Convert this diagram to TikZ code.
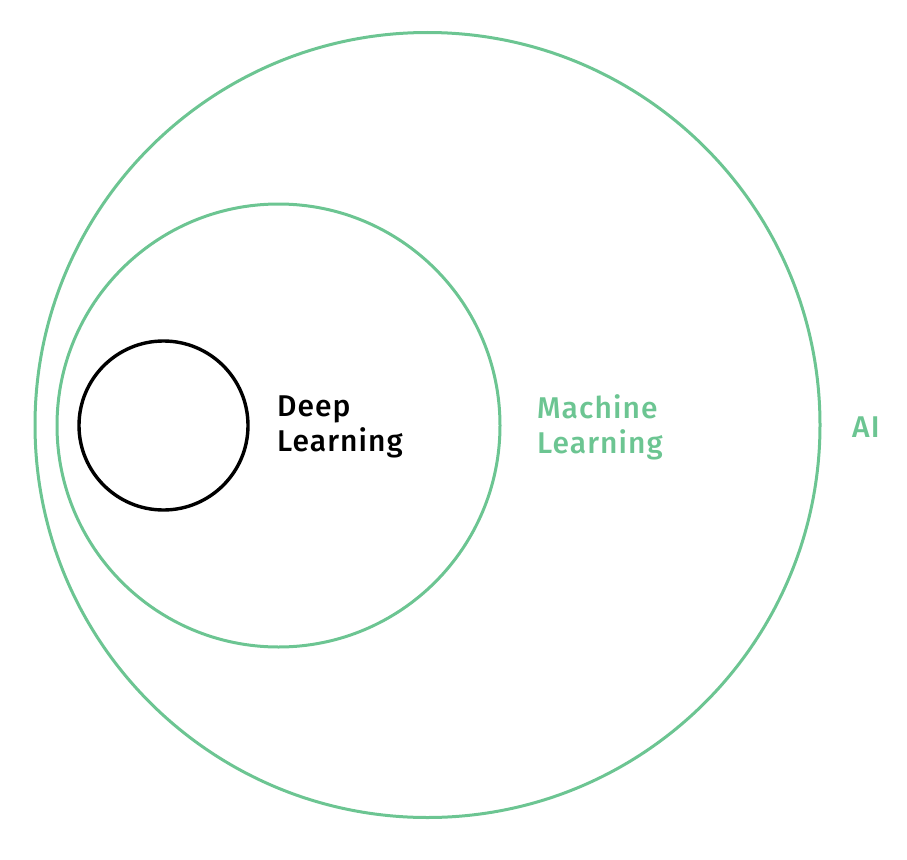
\documentclass[tikz,border=0pt]{standalone}
\usepackage{fontspec}
\setmainfont{Fira Sans Medium}[LetterSpace=3.5]
\definecolor{mlgreen}{HTML}{6CC592}
\tikzset{
  ring/.style={circle, draw=mlgreen, line width=3pt, inner sep=0pt},
  dlring/.style={circle, draw=black, line width=3.4pt, inner sep=0pt},
  tag/.style={anchor=west, align=left, inner sep=0pt,
    font=\fontsize{30}{35}\selectfont}
}
\begin{document}
\begin{tikzpicture}[x=1pt, y=-1pt]
      \useasboundingbox (0,0) rectangle (907,859);
      \draw
        (427.5,425) node[ring, minimum size=785] (ai) {}
        (278.5,425.5) node[ring, minimum size=443] (ml) {}
        (163.5,425.5) node[dlring, minimum size=169] (dl) {};
      \begin{scope}[tag]
        \node (dltag) at (277,427) {Deep\\Learning};
        \node[text=mlgreen] (mltag) at (537,427) {Machine\\Learning};
        \node[text=mlgreen] (aitag) at (852,427) {AI};
      \end{scope}
    \end{tikzpicture}
\end{document}
